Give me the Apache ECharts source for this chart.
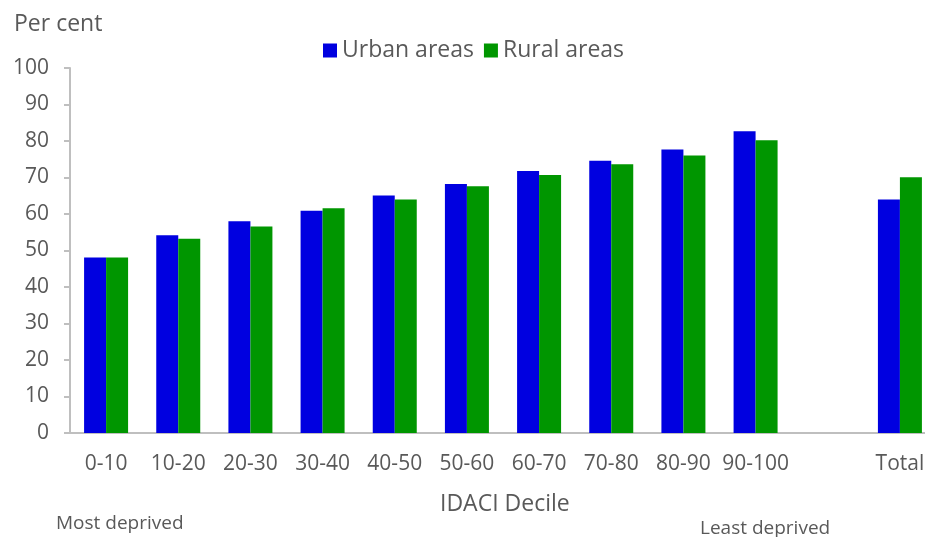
<!DOCTYPE html>
<html>
<head>
<meta charset="utf-8">
<script src="https://cdn.jsdelivr.net/npm/echarts@6/dist/echarts.min.js"></script>
<style>
  html, body { margin: 0; padding: 0; background: #fff; }
  #chart { width: 925px; height: 537px; }
</style>
</head>
<body>
<div id="chart"></div>
<script>
// IDACI deciles, blank slot before Total
var categories = ['0-10', '10-20', '20-30', '30-40', '40-50', '50-60', '60-70', '70-80', '80-90', '90-100', '', 'Total']
var urban = [48.1, 54.2, 58.0, 60.9, 65.1, 68.2, 71.8, 74.6, 77.7, 82.7, null, 64.0]
var rural = [48.1, 53.2, 56.6, 61.6, 64.0, 67.6, 70.7, 73.6, 76.0, 80.2, null, 70.1]
var yTicks = { min: 0, max: 100, interval: 10 }

var font = '"Open Sans", Lato, sans-serif'
var grey = '#595959'

var chart = echarts.init(document.getElementById('chart'))
var option = {
  backgroundColor: '#fff',
  textStyle: { fontFamily: font, color: grey },
  legend: {
    top: 39,
    left: 323,
    padding: 0,
    itemWidth: 14,
    itemHeight: 14,
    itemGap: 10,
    icon: 'rect',
    textStyle: { fontFamily: font, fontSize: 23, color: grey, padding: [0, 0, 0, 0] },
    data: ['Urban areas', 'Rural areas']
  },
  // 轴外文字
  graphic: [
    { type: 'text', x: 14, y: 24, style: { text: 'Per cent', font: '23px ' + font, fill: grey, verticalAlign: 'middle' } },
    { type: 'text', x: 440, y: 504, style: { text: 'IDACI Decile', font: '23px ' + font, fill: grey, verticalAlign: 'middle' } },
    { type: 'text', x: 56, y: 524, style: { text: 'Most deprived', font: '19px ' + font, fill: grey, verticalAlign: 'middle' } },
    { type: 'text', x: 700, y: 529, style: { text: 'Least deprived', font: '19px ' + font, fill: grey, verticalAlign: 'middle' } }
  ],
  grid: {
    left: 70,
    top: 68,
    width: 866,
    height: 365,
    outerBoundsMode: 'none',
    containLabel: false
  },
  xAxis: {
    type: 'category',
    data: categories,
    axisLine: { lineStyle: { color: '#bfbfbf', width: 2 } },
    axisTick: { show: false },
    axisLabel: { fontFamily: font, fontSize: 21, color: grey, margin: 21, interval: 0 }
  },
  yAxis: {
    type: 'value',
    min: yTicks.min,
    max: yTicks.max,
    interval: yTicks.interval,
    axisLine: { show: true, lineStyle: { color: '#bfbfbf', width: 2 } },
    axisTick: { show: true, length: 6, lineStyle: { color: '#bfbfbf', width: 2 } },
    splitLine: { show: false },
    axisLabel: { fontFamily: font, fontSize: 21, color: grey, margin: 21 }
  },
  series: [
    {
      name: 'Urban areas',
      type: 'bar',
      data: urban,
      barWidth: 22,
      barGap: '0%',
      itemStyle: { color: '#0000e0' }
    },
    {
      name: 'Rural areas',
      type: 'bar',
      data: rural,
      barWidth: 22,
      barGap: '0%',
      itemStyle: { color: '#009600' }
    }
  ]
}
chart.setOption(option)
</script>
</body>
</html>
